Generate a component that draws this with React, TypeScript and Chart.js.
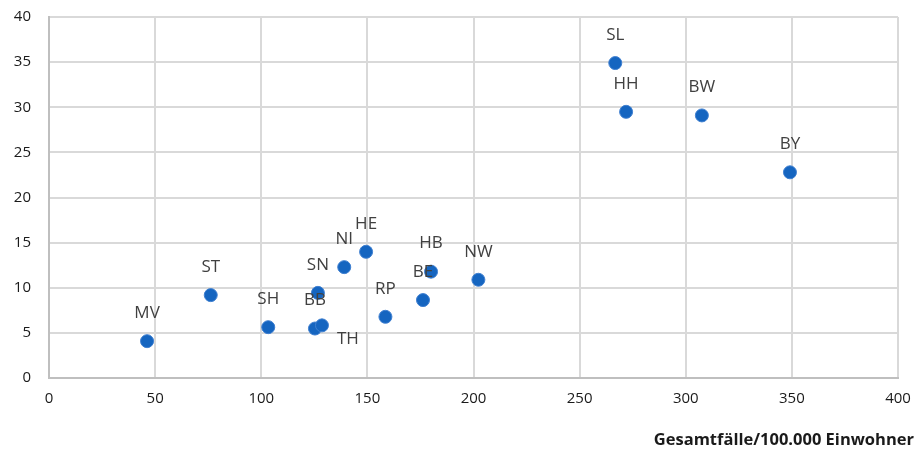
import React, { useEffect, useRef } from 'react';
import { Chart, registerables } from 'chart.js';

Chart.register(...registerables);

const states = ['MV', 'ST', 'SH', 'BB', 'TH', 'SN', 'NI', 'HE', 'RP', 'BE', 'HB', 'NW', 'SL', 'HH', 'BW', 'BY'];
const casesPer100k = [46.2, 76.2, 103.3, 125.3, 128.6, 126.7, 139.1, 149.4, 158.5, 176.2, 180.0, 202.3, 266.8, 271.9, 307.6, 349.1];
const yValues = [4.1, 9.2, 5.65, 5.5, 5.85, 9.45, 12.3, 14.0, 6.8, 8.65, 11.8, 10.9, 34.9, 29.5, 29.1, 22.8];
const xAxisTitle = 'Gesamtfälle/100.000 Einwohner';
const labelsBelow = ['TH'];

const FONT = '"Open Sans", sans-serif';

const labelPlugin = {
  id: 'pointLabels',
  afterDatasetsDraw(chart: any) {
    const ctx = chart.ctx;
    const meta = chart.getDatasetMeta(0);
    ctx.save();
    ctx.font = `17px ${FONT}`;
    ctx.fillStyle = '#404040';
    ctx.textAlign = 'center';
    ctx.textBaseline = 'middle';
    meta.data.forEach((el: any, i: number) => {
      const lbl = states[i];
      const below = labelsBelow.includes(lbl);
      ctx.fillText(lbl, el.x + (below ? 26 : 0), el.y + (below ? 14 : -28));
    });
    ctx.restore();
  },
};

export default function App() {
  const ref = useRef<HTMLCanvasElement | null>(null);
  useEffect(() => {
    if (!ref.current) return;
    const chart = new Chart(ref.current, {
      type: 'scatter',
      data: {
        datasets: [
          {
            data: casesPer100k.map((x, i) => ({ x, y: yValues[i] })),
            backgroundColor: '#1565c0',
            borderColor: '#3f7fd0',
            borderWidth: 1,
            pointRadius: 6.5,
          },
        ],
      },
      options: {
        responsive: false,
        animation: false,
        devicePixelRatio: 1,
        layout: { padding: { top: 17, left: 0, right: 0, bottom: 0 } },
        plugins: {
          legend: { display: false },
          tooltip: { enabled: false },
          title: {
            display: true,
            position: 'bottom',
            align: 'end',
            text: xAxisTitle,
            color: '#1a1a1a',
            font: { family: FONT, size: 16.5, weight: 'bold' },
            padding: { top: 22, bottom: 2 },
          },
        },
        scales: {
          x: {
            type: 'linear',
            min: 0,
            max: 400,
            ticks: { stepSize: 50, padding: 12, color: '#1a1a1a', font: { family: FONT, size: 15 } },
            grid: { color: '#d9d9d9', lineWidth: 2, drawTicks: false },
            border: { color: '#bfbfbf', width: 2 },
            afterFit: (s: any) => {
              s.height = 30;
              s.paddingRight = 16;
            },
          },
          y: {
            min: 0,
            max: 40,
            ticks: { stepSize: 5, padding: 18, color: '#1a1a1a', font: { family: FONT, size: 15 } },
            grid: { color: '#d9d9d9', lineWidth: 2, drawTicks: false },
            border: { color: '#bfbfbf', width: 2 },
            afterFit: (s: any) => {
              s.width = 49;
              s.paddingTop = 0;
              s.paddingBottom = 0;
            },
          },
        },
      },
      plugins: [labelPlugin],
    });
    return () => chart.destroy();
  }, []);
  return (
    <div style={{ position: 'absolute', left: 0, top: 0, width: 914, height: 452, background: '#fff' }}>
      <canvas ref={ref} width={914} height={452} />
    </div>
  );
}
